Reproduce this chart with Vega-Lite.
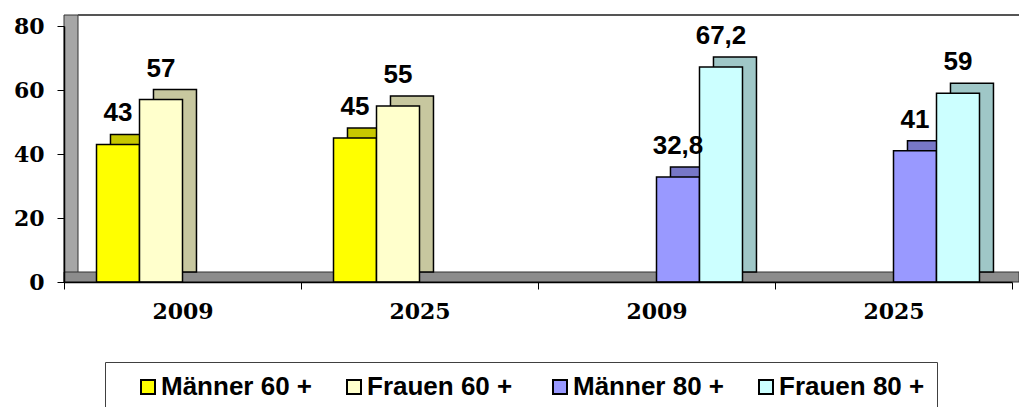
{
  "$schema": "https://vega.github.io/schema/vega-lite/v6.json",
  "width": 948,
  "height": 256,
  "autosize": {"type": "none"},
  "padding": {"left": 64, "top": 26, "right": 7, "bottom": 125},
  "background": "white",
  "config": {
    "view": {"stroke": null},
    "locale": {"number": {"decimal": ",", "thousands": ".", "grouping": [3], "currency": ["", " €"]}}
  },
  "data": {
    "values": [
      {"Kategorie": "2009 (60+)", "Serie": "Männer 60 +", "Wert": 43},
      {"Kategorie": "2009 (60+)", "Serie": "Frauen 60 +", "Wert": 57},
      {"Kategorie": "2025 (60+)", "Serie": "Männer 60 +", "Wert": 45},
      {"Kategorie": "2025 (60+)", "Serie": "Frauen 60 +", "Wert": 55},
      {"Kategorie": "2009 (80+)", "Serie": "Männer 80 +", "Wert": 32.8},
      {"Kategorie": "2009 (80+)", "Serie": "Frauen 80 +", "Wert": 67.2},
      {"Kategorie": "2025 (80+)", "Serie": "Männer 80 +", "Wert": 41},
      {"Kategorie": "2025 (80+)", "Serie": "Frauen 80 +", "Wert": 59}
    ]
  },
  "layer": [
    {
      "data": {"values": [{}]},
      "layer": [
        {
          "mark": {"type": "rect", "fill": "#a6a6a6", "stroke": "#333333", "strokeWidth": 1, "x2Offset": 14, "y2Offset": -11},
          "encoding": {
            "x": {"datum": 0, "type": "quantitative", "scale": {"domain": [0, 1]}, "axis": null},
            "x2": {"datum": 0},
            "y": {"datum": 0, "type": "quantitative"},
            "y2": {"datum": 80}
          }
        },
        {
          "mark": {"type": "rect", "fill": "#8c8c8c", "stroke": "#333333", "strokeWidth": 1, "x2Offset": 7, "y2Offset": -10},
          "encoding": {
            "x": {"datum": 0, "type": "quantitative", "scale": {"domain": [0, 1]}, "axis": null},
            "x2": {"datum": 1},
            "y": {"datum": 0, "type": "quantitative"},
            "y2": {"datum": 0}
          }
        },
        {
          "mark": {"type": "rect", "fill": "#555555", "xOffset": 14, "x2Offset": 7, "yOffset": -10, "y2Offset": -12},
          "encoding": {
            "x": {"datum": 0, "type": "quantitative", "scale": {"domain": [0, 1]}, "axis": null},
            "x2": {"datum": 1},
            "y": {"datum": 80, "type": "quantitative"},
            "y2": {"datum": 80}
          }
        }
      ]
    },
    {
      "encoding": {
        "x": {
          "field": "Kategorie", "type": "nominal", "sort": null,
          "scale": {"paddingInner": 0, "paddingOuter": 0},
          "axis": {
            "title": null, "labelExpr": "slice(datum.label, 0, 4)", "labelAngle": 0, "tickBand": "extent",
            "labelFont": "DejaVu Serif", "labelFontWeight": "bold", "labelFontSize": 22, "labelColor": "black",
            "domainColor": "black", "domainWidth": 1.5, "tickColor": "black", "tickSize": 7, "labelPadding": 12, "zindex": 1
          }
        },
        "y": {
          "field": "Wert", "type": "quantitative",
          "scale": {"domain": [0, 80], "nice": false},
          "axis": {
            "title": null, "values": [0, 20, 40, 60, 80], "grid": false,
            "labelFont": "DejaVu Serif", "labelFontWeight": "bold", "labelFontSize": 22, "labelColor": "black",
            "domainColor": "black", "domainWidth": 1.5, "tickColor": "black", "tickSize": 7, "labelPadding": 13, "zindex": 1
          }
        },
        "color": {
          "field": "Serie", "type": "nominal",
          "scale": {"domain": ["Männer 60 +", "Frauen 60 +", "Männer 80 +", "Frauen 80 +"], "range": ["#ffff00", "#ffffcc", "#9999ff", "#ccffff"]},
          "legend": {
            "orient": "none", "legendX": 41, "legendY": 336, "direction": "horizontal", "columns": 4,
            "title": null, "strokeColor": "#404040", "fillColor": "white", "padding": 12,
            "symbolType": "square", "symbolSize": 196, "symbolStrokeColor": "black", "symbolStrokeWidth": 2,
            "labelFont": "Liberation Sans", "labelFontWeight": "bold", "labelFontSize": 26, "labelColor": "black",
            "labelOffset": 0, "columnPadding": 10, "gridAlign": "all", "symbolOffset": 18,
            "encode": {"symbols": {"update": {"stroke": {"value": "black"}, "strokeWidth": {"value": 2}}}}
          }
        }
      },
      "layer": [
        {
          "mark": {"type": "bar", "yOffset": -10, "y2Offset": -10},
          "encoding": {
            "xOffset": {
              "field": "Serie", "type": "nominal",
              "scale": {"domain": ["Männer 60 +", "Frauen 60 +", "Männer 80 +", "Frauen 80 +"], "paddingInner": 0, "paddingOuter": 0.756, "align": 0.715}
            }
          }
        },
        {
          "mark": {"type": "bar", "yOffset": -10, "y2Offset": -10, "fill": "black", "fillOpacity": 0.22, "stroke": "black", "strokeWidth": 1.5},
          "encoding": {
            "color": null,
            "xOffset": {
              "field": "Serie", "type": "nominal",
              "scale": {"domain": ["Männer 60 +", "Frauen 60 +", "Männer 80 +", "Frauen 80 +"], "paddingInner": 0, "paddingOuter": 0.756, "align": 0.715}
            }
          }
        },
        {
          "layer": [
            {
              "mark": {"type": "bar", "stroke": "black", "strokeWidth": 1.5}
            },
            {
              "mark": {"type": "text", "baseline": "bottom", "dy": -18, "font": "Liberation Sans", "fontWeight": "bold", "fontSize": 26, "color": "black"},
              "encoding": {
                "color": null,
                "text": {"field": "Wert", "type": "quantitative", "format": "~r"}
              }
            }
          ],
          "encoding": {
            "xOffset": {
              "field": "Serie", "type": "nominal",
              "scale": {"domain": ["Männer 60 +", "Frauen 60 +", "Männer 80 +", "Frauen 80 +"], "paddingInner": 0, "paddingOuter": 0.756, "align": 0.5}
            }
          }
        }
      ],
      "resolve": {"scale": {"xOffset": "independent"}}
    }
  ],
  "resolve": {"scale": {"x": "independent"}}
}
